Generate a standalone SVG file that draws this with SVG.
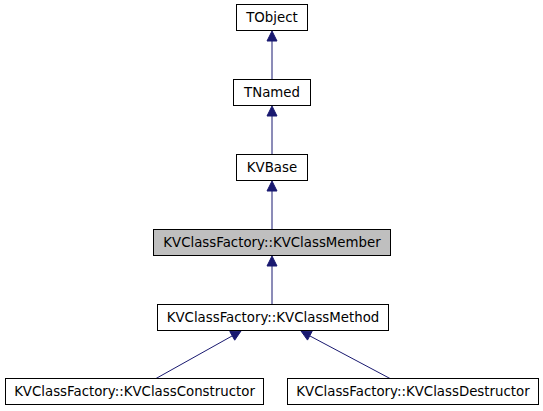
<svg xmlns="http://www.w3.org/2000/svg" width="543" height="411" viewBox="0 0 543 411">
<style>
.n rect{fill:#ffffff;stroke:#000000;stroke-width:1}
.n.h rect{fill:#bfbfbf}
.n text{font-family:"DejaVu Sans",sans-serif;font-size:13.33px;text-anchor:middle;fill:#000000}
.e line{stroke:#191970;stroke-width:1}
.e polygon{fill:#191970;stroke:#191970;stroke-width:1}
</style>
<rect width="543" height="411" fill="#ffffff"/>
<g id="connectors" class="e">
<line x1="272" y1="79.5" x2="272" y2="41"/>
<polygon points="272,31 267,41 277,41"/>
<line x1="272" y1="154.5" x2="272" y2="116"/>
<polygon points="272,106 267,116 277,116"/>
<line x1="272" y1="229.5" x2="272" y2="191"/>
<polygon points="272,181 267,191 277,191"/>
<line x1="272" y1="304.5" x2="272" y2="266"/>
<polygon points="272,256 267,266 277,266"/>
<line x1="156" y1="378.5" x2="232" y2="336"/>
<polygon points="241,331 234.7,340.2 229.8,331.5"/>
<line x1="390" y1="378.5" x2="310" y2="336"/>
<polygon points="301,331 312.2,331.2 307.5,340.1"/>
</g>
<g id="TObject" class="n"><rect x="236.5" y="4.5" width="71" height="26"/><text x="272" y="22">TObject</text></g>
<g id="TNamed" class="n"><rect x="233.5" y="79.5" width="77" height="26"/><text x="272" y="97">TNamed</text></g>
<g id="KVBase" class="n"><rect x="236.5" y="154.5" width="71" height="26"/><text x="272" y="172">KVBase</text></g>
<g id="KVClassMember" class="n h"><rect x="153.5" y="229.5" width="237" height="26"/><text x="272" y="247">KVClassFactory::KVClassMember</text></g>
<g id="KVClassMethod" class="n"><rect x="157.5" y="304.5" width="231" height="26"/><text x="273" y="322">KVClassFactory::KVClassMethod</text></g>
<g id="KVClassConstructor" class="n"><rect x="5.5" y="378.5" width="258" height="26"/><text x="134.5" y="396">KVClassFactory::KVClassConstructor</text></g>
<g id="KVClassDestructor" class="n"><rect x="287.5" y="378.5" width="251" height="26"/><text x="413" y="396">KVClassFactory::KVClassDestructor</text></g>
</svg>
